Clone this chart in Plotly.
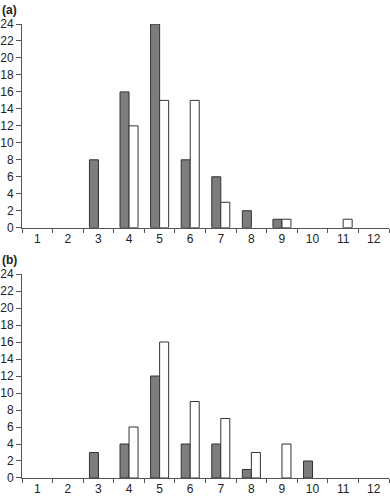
import plotly.graph_objects as go
from plotly.subplots import make_subplots

categories = [str(i) for i in range(1, 13)]
# None = no bar drawn (count of zero)
a_gray = [None, None, 8, 16, 24, 8, 6, 2, 1, None, None, None]
a_white = [None, None, None, 12, 15, 15, 3, None, 1, None, 1, None]
b_gray = [None, None, 3, 4, 12, 4, 4, 1, None, 2, None, None]
b_white = [None, None, None, 6, 16, 9, 7, 3, 4, None, None, None]
y_ticks = list(range(0, 25, 2))
panel_labels = ["(a)", "(b)"]

fig = make_subplots(rows=2, cols=1)
GRAY = "#7d7d7d"
EDGE = "#333333"
for row, (g, w) in enumerate([(a_gray, a_white), (b_gray, b_white)], start=1):
    fig.add_trace(go.Bar(x=categories, y=g, marker=dict(color=GRAY, line=dict(color=EDGE, width=1)),
                         showlegend=False, hoverinfo="skip"), row=row, col=1)
    fig.add_trace(go.Bar(x=categories, y=w, marker=dict(color="white", line=dict(color=EDGE, width=1)),
                         showlegend=False, hoverinfo="skip"), row=row, col=1)

axis_font = dict(family="Liberation Sans, Arial, sans-serif", size=12, color="#222")
for ax in ["xaxis", "xaxis2"]:
    fig.layout[ax].update(type="category", range=[-0.5, 11.5], tickson="boundaries", ticks="outside",
                          ticklen=4, tickcolor="#555", showline=True, linecolor="#555", linewidth=1,
                          showgrid=False, zeroline=False, tickfont=axis_font, automargin=False)
for ax in ["yaxis", "yaxis2"]:
    fig.layout[ax].update(range=[0, 24], tickvals=y_ticks, ticks="outside", ticklen=5, tickcolor="#555",
                          showline=True, linecolor="#555", linewidth=1, showgrid=False, zeroline=False,
                          tickfont=axis_font, automargin=False, ticklabelstandoff=0)
fig.layout.yaxis.domain = [0.5513, 1]
fig.layout.yaxis2.domain = [0, 0.4493]
fig.layout.xaxis.domain = [0, 1]
fig.layout.xaxis2.domain = [0, 1]

label_font = dict(family="Liberation Sans, Arial, sans-serif", size=12, color="#222")
fig.add_annotation(text="<b>" + panel_labels[0] + "</b>", xref="paper", yref="paper", x=-22/367, y=1 + 14/454,
                   xanchor="left", yanchor="middle", showarrow=False, font=label_font)
fig.add_annotation(text="<b>" + panel_labels[1] + "</b>", xref="paper", yref="paper", x=-22/367, y=0.4493 + 14/454,
                   xanchor="left", yanchor="middle", showarrow=False, font=label_font)

fig.update_layout(width=390, height=497, margin=dict(l=22, r=1, t=24, b=19, autoexpand=False),
                  barmode="group", bargap=0.41, bargroupgap=0,
                  plot_bgcolor="white", paper_bgcolor="white")
fig.write_html("out.html", config={"displayModeBar": False},
               post_script="document.body.style.margin='0';document.body.style.overflow='hidden';")
